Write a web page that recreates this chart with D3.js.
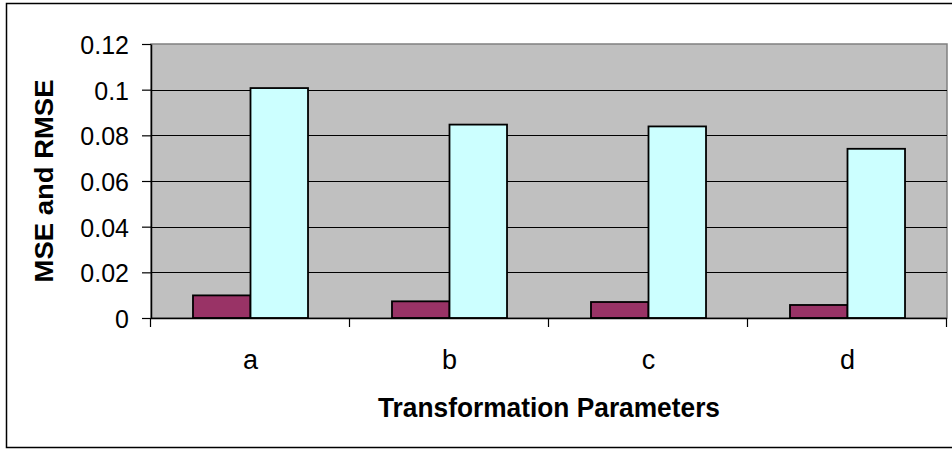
<!DOCTYPE html>
<html>
<head>
<meta charset="utf-8">
<script src="https://cdn.jsdelivr.net/npm/d3@7"></script>
<style>
	body { margin: 0; background: #fff; }
	text { font-family: "Liberation Sans", Arial, sans-serif; fill: #000; }
</style>
</head>
<body>
<script>
// chart data
var categories = ["a", "b", "c", "d"];
var seriesNames = ["MSE", "RMSE"];
var mseValues = [0.0099, 0.0073, 0.0070, 0.0057];
var rmseValues = [0.1007, 0.0847, 0.0839, 0.0741];
var yTicks = [0, 0.02, 0.04, 0.06, 0.08, 0.1, 0.12];
var seriesColors = ["#993366", "#ccffff"];

var width = 952,
	height = 450,
	svg;

// plot area
var plot = { left: 151, top: 44, right: 947, bottom: 318 };

function init() {
	svg = d3.select("body")
		.append("svg")
		.attr("width", width)
		.attr("height", height);

	// outer chart border
	svg.append("rect")
		.attr("x", 6.5)
		.attr("y", 3.5)
		.attr("width", 960)
		.attr("height", 444)
		.attr("fill", "#fff")
		.attr("stroke", "#000")
		.attr("stroke-width", 1.5);

	drawChart();
}

function drawChart() {
	var x0 = d3.scaleBand()
		.domain(categories)
		.range([plot.left, plot.right]);

	var x1 = d3.scaleBand()
		.domain(seriesNames)
		.range([0, x0.bandwidth()])
		.paddingOuter(0.73);

	var y = d3.scaleLinear()
		.domain([0, 0.12])
		.range([plot.bottom, plot.top]);

	var color = d3.scaleOrdinal()
		.domain(seriesNames)
		.range(seriesColors);

	// gray plot background
	svg.append("rect")
		.attr("x", plot.left)
		.attr("y", plot.top)
		.attr("width", plot.right - plot.left)
		.attr("height", plot.bottom - plot.top)
		.attr("fill", "#c0c0c0")
		.attr("stroke", "#808080")
		.attr("stroke-width", 1.5);

	// gridlines
	svg.append("g")
		.selectAll("line")
		.data(yTicks.filter(function(d) { return d > 0 && d < 0.12; }))
		.enter().append("line")
		.attr("x1", plot.left)
		.attr("x2", plot.right)
		.attr("y1", function(d) { return Math.round(y(d)) + 0.5; })
		.attr("y2", function(d) { return Math.round(y(d)) + 0.5; })
		.attr("stroke", "#000")
		.attr("stroke-width", 1.2);

	// bars
	var rows = categories.map(function(c, i) {
		return [
			{ cat: c, key: "MSE", value: mseValues[i] },
			{ cat: c, key: "RMSE", value: rmseValues[i] }
		];
	});

	svg.append("g")
		.selectAll("g")
		.data(rows)
		.enter().append("g")
		.attr("transform", function(d) { return "translate(" + x0(d[0].cat) + ",0)"; })
		.selectAll("rect")
		.data(function(d) { return d; })
		.enter().append("rect")
		.attr("x", function(d) { return x1(d.key); })
		.attr("y", function(d) { return y(d.value); })
		.attr("width", x1.bandwidth())
		.attr("height", function(d) { return y(0) - y(d.value); })
		.attr("fill", function(d) { return color(d.key); })
		.attr("stroke", "#000")
		.attr("stroke-width", 1.8);

	// y axis
	var yAxis = svg.append("g")
		.attr("transform", "translate(" + plot.left + ",0)")
		.call(d3.axisLeft(y)
			.tickValues(yTicks)
			.tickFormat(function(d) { return d3.format("")(+d.toFixed(2)); })
			.tickSizeInner(9)
			.tickSizeOuter(0)
			.tickPadding(13));
	yAxis.select(".domain").attr("stroke", "#000").attr("stroke-width", 1.5);
	yAxis.selectAll(".tick line").attr("stroke", "#000").attr("stroke-width", 1.2);
	yAxis.selectAll("text")
		.attr("font-size", 25)
		.attr("dy", "0.38em")
		.attr("font-family", "Liberation Sans, Arial, sans-serif");

	// x axis: ticks at category boundaries
	svg.append("line")
		.attr("x1", plot.left)
		.attr("x2", plot.right)
		.attr("y1", plot.bottom + 0.5)
		.attr("y2", plot.bottom + 0.5)
		.attr("stroke", "#000")
		.attr("stroke-width", 1.5);

	var boundaries = categories.map(function(c) { return x0(c); }).concat([plot.right]);
	svg.append("g")
		.selectAll("line")
		.data(boundaries)
		.enter().append("line")
		.attr("x1", function(d) { return Math.round(d) - 0.5; })
		.attr("x2", function(d) { return Math.round(d) - 0.5; })
		.attr("y1", plot.bottom)
		.attr("y2", plot.bottom + 9)
		.attr("stroke", "#000")
		.attr("stroke-width", 1.2);

	svg.append("g")
		.selectAll("text")
		.data(categories)
		.enter().append("text")
		.attr("x", function(d) { return x0(d) + x0.bandwidth() / 2; })
		.attr("y", 369)
		.attr("text-anchor", "middle")
		.attr("font-size", 27)
		.text(function(d) { return d; });

	// axis titles
	svg.append("text")
		.attr("x", (plot.left + plot.right) / 2)
		.attr("y", 417)
		.attr("text-anchor", "middle")
		.attr("font-size", 27)
		.attr("font-weight", "bold")
		.attr("textLength", 342)
		.attr("lengthAdjust", "spacingAndGlyphs")
		.text("Transformation Parameters");

	svg.append("text")
		.attr("transform", "translate(53," + (plot.top + plot.bottom) / 2 + ") rotate(-90)")
		.attr("text-anchor", "middle")
		.attr("font-size", 25)
		.attr("font-weight", "bold")
		.attr("textLength", 203)
		.attr("lengthAdjust", "spacingAndGlyphs")
		.text("MSE and RMSE");
}

window.onload = init;
</script>
</body>
</html>
